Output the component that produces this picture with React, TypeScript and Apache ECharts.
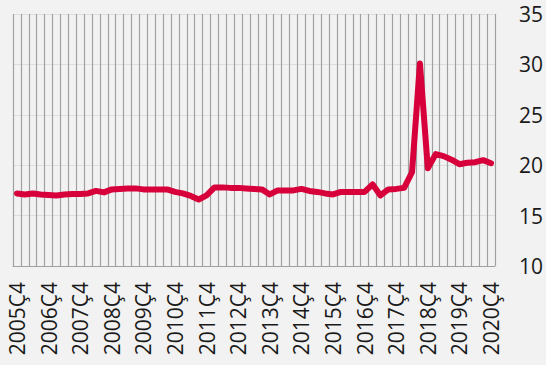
import React, { useEffect, useRef } from "react";
import * as echarts from "echarts";

const years = [2005, 2006, 2007, 2008, 2009, 2010, 2011, 2012, 2013, 2014, 2015, 2016, 2017, 2018, 2019, 2020];
const quarterNames = ["Ç1", "Ç2", "Ç3", "Ç4"];
const categories: string[] = [];
years.forEach((y) => {
  quarterNames.forEach((q, qi) => {
    if ((y === 2005 && qi < 3) || (y === 2020 && qi > 3)) return;
    categories.push(`${y}${q}`);
  });
});

const values = [
  17.2, 17.1, 17.2, 17.1, 17.05, 17.0, 17.1, 17.15, 17.15, 17.2,
  17.45, 17.3, 17.6, 17.65, 17.7, 17.7, 17.6, 17.6, 17.6, 17.6,
  17.35, 17.2, 16.95, 16.6, 17.0, 17.8, 17.8, 17.75, 17.75, 17.7,
  17.65, 17.6, 17.1, 17.5, 17.5, 17.5, 17.65, 17.45, 17.35, 17.2,
  17.1, 17.35, 17.35, 17.35, 17.35, 18.1, 17.0, 17.6, 17.65, 17.75,
  19.3, 30.1, 19.7, 21.1, 20.9, 20.55, 20.1, 20.25, 20.3, 20.5,
  20.2,
];

const yMin = 10;
const yMax = 35;
const yStep = 5;

export default function App() {
  const ref = useRef<HTMLDivElement>(null);
  useEffect(() => {
    if (!ref.current) return;
    document.documentElement.style.overflow = "hidden";
    document.body.style.margin = "0";
    document.body.style.overflow = "hidden";
    const chart = echarts.init(ref.current, undefined, { renderer: "svg", width: 546, height: 365 });
    chart.setOption({
      animation: false,
      backgroundColor: "#f2f2f2",
      grid: { left: 13, right: 43, top: 14, bottom: 99, containLabel: false },
      xAxis: {
        type: "category",
        data: categories,
        boundaryGap: true,
        axisLine: { show: true, lineStyle: { color: "#a0a0a0", width: 1 } },
        axisTick: { show: false },
        axisLabel: {
          interval: 3,
          rotate: 90,
          margin: 16,
          fontSize: 21,
          fontFamily: "Open Sans",
          color: "#1a1a1a",
        },
        splitLine: { show: true, interval: 0, lineStyle: { color: "#a0a0a0", width: 1.2 } },
      },
      yAxis: {
        type: "value",
        position: "right",
        min: yMin,
        max: yMax,
        interval: yStep,
        axisLine: { show: false },
        axisTick: { show: false },
        axisLabel: {
          margin: 24,
          fontSize: 21,
          fontFamily: "Open Sans",
          color: "#1a1a1a",
        },
        splitLine: { show: true, lineStyle: { color: "#dcdcdc", width: 1 } },
      },
      series: [
        {
          type: "line",
          data: values,
          symbol: "none",
          lineStyle: { color: "#d7003a", width: 6, cap: "round", join: "round" },
        },
      ],
    });
    return () => chart.dispose();
  }, []);
  return (
    <div style={{ position: "relative", width: 546, height: 365, overflow: "hidden" }}>
      <div ref={ref} style={{ width: 546, height: 365, overflow: "hidden" }} />
    </div>
  );
}
